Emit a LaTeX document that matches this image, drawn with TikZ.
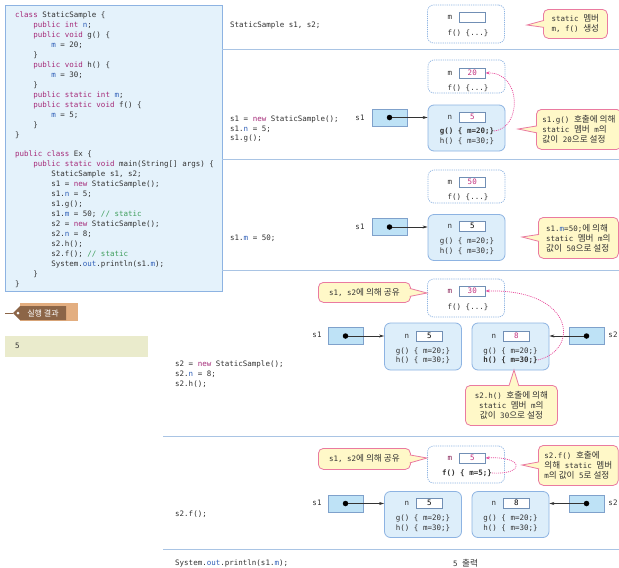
\documentclass[tikz,border=0pt]{standalone}
\usepackage{fontspec}
\setmainfont{DejaVu Sans}
\setmonofont{DejaVu Sans Mono}
\newfontfamily\kr[Scale=1.15]{Noto Sans CJK KR}
\usetikzlibrary{arrows.meta,calc,positioning}
\definecolor{codebg}{HTML}{E4F2FB}
\definecolor{codeline}{HTML}{8DB3E2}
\definecolor{sepline}{HTML}{A9C4E4}
\definecolor{objfill}{HTML}{DDEEFA}
\definecolor{reffill}{HTML}{BEE2F6}
\definecolor{notefill}{HTML}{FFF8C8}
\definecolor{noteline}{HTML}{EA7AA0}
\definecolor{pinkarrow}{HTML}{E8489A}
\definecolor{valred}{HTML}{C2307E}
\definecolor{kw}{HTML}{A52A78}
\definecolor{fld}{HTML}{2F5FB8}
\definecolor{cmt}{HTML}{3F9E5C}
\definecolor{txt}{HTML}{333333}
\definecolor{tagtan}{HTML}{E3AE80}
\definecolor{tagbrown}{HTML}{8C6547}
\definecolor{outfill}{HTML}{EAEBCC}
\newcommand{\codefont}{\ttfamily\fontsize{7.5}{9.93}\selectfont}
\newcommand{\notefont}{\ttfamily\fontsize{7.5}{10}\selectfont}
\newcommand{\kwd}[1]{\textcolor{kw}{#1}}
\newcommand{\fldm}[1]{\textcolor{fld}{#1}}
\newcommand{\hg}[1]{{\kr #1}}
\newcommand{\ii}{\mbox{\ \ \ \ }}
% pointer of a note: base, tip, base
\newcommand{\notetip}[3]{%
  \fill[notefill] #1 -- #2 -- #3 -- cycle;
  \draw[noteline,line width=0.8pt] #1 -- #2 -- #3;}

\begin{document}
\begin{tikzpicture}[x=1pt,y=-1pt,>=Stealth,
    codebox/.style={draw=codeline,fill=codebg,line width=0.9pt,anchor=north west,minimum width=217pt,minimum height=286pt},
    divider/.style={draw=sepline,line width=1pt},
    statbox/.style={draw=codeline,fill=white,rounded corners=6pt,dash pattern=on 1.2pt off 1pt,line width=0.7pt,minimum width=77pt},
    objbox/.style={draw=codeline,fill=objfill,rounded corners=6pt,line width=0.8pt,minimum width=77pt,minimum height=46pt},
    valbox/.style={draw=codeline!80!black,fill=white,minimum width=26pt,minimum height=10pt,inner sep=0pt,font=\codefont,line width=0.6pt},
    refbox/.style={draw=codeline!90!black,fill=reffill,minimum width=35pt,minimum height=17pt,line width=0.6pt},
    refdot/.style={circle,fill=black,inner sep=0pt,minimum size=5.5pt},
    member/.style={font=\codefont,text=txt,inner sep=0pt,text height=5.5pt,text depth=1.5pt},
    codetext/.style={font=\codefont,text=txt,inner sep=0pt,align=left,anchor=west},
    note/.style={draw=noteline,fill=notefill,rounded corners=5pt,line width=0.8pt,font=\notefont,text=txt,align=left,inner xsep=6pt,anchor=north west},
    link/.style={-{Stealth[length=5pt,width=3pt]},line width=0.6pt,draw=black!80},
    shared/.style={-{Stealth[length=4pt,width=3pt]},draw=pinkarrow,line width=0.7pt,dash pattern=on 1pt off 1pt}]
\useasboundingbox (0,0) rectangle (619,568);
\clip (0,0) rectangle (619,568);
\fill[white] (0,0) rectangle (619,568);

% source code
\node[codebox] (code) at (5,5) {};
\node[codetext,anchor=north west] (src) at (15,12) {%
\kwd{class} StaticSample \{\\
\ii\kwd{public int} \fldm{n};\\
\ii\kwd{public void} g() \{\\
\ii\ii\fldm{m} = 20;\\
\ii\}\\
\ii\kwd{public void} h() \{\\
\ii\ii\fldm{m} = 30;\\
\ii\}\\
\ii\kwd{public static int} \fldm{m};\\
\ii\kwd{public static void} f() \{\\
\ii\ii\fldm{m} = 5;\\
\ii\}\\
\}\\[9.93pt]
\kwd{public class} Ex \{\\
\ii\kwd{public static void} main(String[] args) \{\\
\ii\ii StaticSample s1, s2;\\
\ii\ii s1 = \kwd{new} StaticSample();\\
\ii\ii s1.\fldm{n} = 5;\\
\ii\ii s1.g();\\
\ii\ii s1.\fldm{m} = 50; \textcolor{cmt}{// static}\\
\ii\ii s2 = \kwd{new} StaticSample();\\
\ii\ii s2.\fldm{n} = 8;\\
\ii\ii s2.h();\\
\ii\ii s2.f(); \textcolor{cmt}{// static}\\
\ii\ii System.\fldm{out}.println(s1.\fldm{m});\\
\ii\}\\
\}};

% result
\fill[tagtan] (20,303) rectangle (78,321);
\fill[tagbrown] (13,313) -- (20,306) -- (66,306) -- (66,320) -- (20,320) -- cycle;
\fill[white] (18,313) circle (1.5);
\draw[tagbrown,line width=0.8pt] (5,313) -- (13,313);
\node[text=white,font=\kr\fontsize{7}{8}\selectfont,inner sep=0pt] (tag) at (43,313) {실행 결과};
\node[fill=outfill,anchor=north west,minimum width=143pt,minimum height=21pt] (out) at (5,336) {};
\node[codetext] (outval) at (15,346) {5};

% dividers
\draw[divider] (222,49) -- (619,49);
\draw[divider] (222,159) -- (619,159);
\draw[divider] (222,270) -- (619,270);
\draw[divider] (163,436) -- (619,436);
\draw[divider] (163,549) -- (619,549);

% StaticSample s1, s2;
\node[codetext] (c1) at (230,25) {StaticSample s1, s2;};
\node[statbox,minimum height=38pt] (st1) at (466,24) {};
\node[member] (m1) at (450,17) {m};
\node[valbox,right=6.5pt of m1] (mv1) {};
\node[member] (f1) at (468,33) {f() \{...\}};
\node[note,minimum width=64pt,minimum height=29pt] (note1) at (543,9) {static \hg{멤버}\\m, f() \hg{생성}};
\coordinate (t1) at (527,25);
\notetip{($(note1.west)+(1,-3.5)$)}{(t1)}{($(note1.west)+(1,3.5)$)}

% s1 = new StaticSample(); s1.n = 5; s1.g();
\node[codetext] (c2) at (230,129) {s1 = \kwd{new} StaticSample();\\s1.\fldm{n} = 5;\\s1.g();};
\node[statbox,minimum height=33pt] (st2) at (466.5,76.5) {};
\node[member] (m2) at (450,73) {m};
\node[valbox,right=6.5pt of m2,text=valred] (mv2) {20};
\node[member] (f2) at (468,88) {f() \{...\}};
\node[objbox] (ob2) at (466.5,128) {};
\node[member] (n2) at (450,117) {n};
\node[valbox,right=6.5pt of n2,text=valred] (nv2) {5};
\node[member,font=\codefont\bfseries] (g2) at (467,131) {g() \{ m=20;\}};
\node[member] (h2) at (467,141) {h() \{ m=30;\}};
\node[member] (l2) at (360,118) {s1};
\node[refbox] (r2) at (389.5,117.5) {};
\node[refdot] (d2) at (r2.center) {};
\draw[link] (d2) -- (d2 -| ob2.west);
\node[note,minimum height=40pt] (note2) at (536,109) {s1.g() \hg{호출에 의해}\\static \hg{멤버} m\hg{의}\\\hg{값이} 20\hg{으로 설정}};
\coordinate (t2) at (518,129);
\notetip{($(note2.west)+(1,-3.5)$)}{(t2)}{($(note2.west)+(1,3.5)$)}
\draw[shared] (g2.east) .. controls (522,128) and (522,72) .. (mv2.east);

% s1.m = 50;
\node[codetext] (c3) at (230,238) {s1.\fldm{m} = 50;};
\node[statbox,minimum height=33pt] (st3) at (466.5,186.5) {};
\node[member] (m3) at (450,182) {m};
\node[valbox,right=6.5pt of m3,text=valred] (mv3) {50};
\node[member] (f3) at (468,197) {f() \{...\}};
\node[objbox] (ob3) at (466.5,237.5) {};
\node[member] (n3) at (450,226) {n};
\node[valbox,right=6.5pt of n3] (nv3) {5};
\node[member] (g3) at (467,241) {g() \{ m=20;\}};
\node[member] (h3) at (467,251) {h() \{ m=30;\}};
\node[member] (l3) at (360,227) {s1};
\node[refbox] (r3) at (389.5,227) {};
\node[refdot] (d3) at (r3.center) {};
\draw[link] (d3) -- (d3 -| ob3.west);
\node[note,minimum width=80pt,minimum height=41pt] (note3) at (538,217) {s1.\fldm{m}=50;\hg{에 의해}\\static \hg{멤버} m\hg{의}\\\hg{값이} 50\hg{으로 설정}};
\coordinate (t3) at (522,237);
\notetip{($(note3.west)+(1,-3.5)$)}{(t3)}{($(note3.west)+(1,3.5)$)}

% s2 = new StaticSample(); s2.n = 8; s2.h();
\node[codetext] (c4) at (175,374) {s2 = \kwd{new} StaticSample();\\s2.\fldm{n} = 8;\\s2.h();};
\node[statbox,minimum height=38pt] (st4) at (466,298) {};
\node[member,text=valred!70!black] (m4) at (450,291) {m};
\node[valbox,right=6.5pt of m4,text=valred] (mv4) {30};
\node[member] (f4) at (468,307) {f() \{...\}};
\node[note,minimum width=92pt,minimum height=20pt] (note4a) at (318,282) {s1, s2\hg{에 의해 공유}};
\coordinate (t4a) at (427,293);
\notetip{($(note4a.east)+(-1,-4)$)}{(t4a)}{($(note4a.east)+(-1,4)$)}
\node[objbox,minimum height=47pt] (ob4a) at (423,346.5) {};
\node[member] (n4a) at (407,336) {n};
\node[valbox,right=6.5pt of n4a] (nv4a) {5};
\node[member] (g4a) at (423,351) {g() \{ m=20;\}};
\node[member] (h4a) at (423,360) {h() \{ m=30;\}};
\node[objbox,minimum height=47pt] (ob4b) at (510.5,346.5) {};
\node[member] (n4b) at (494,336) {n};
\node[valbox,right=6.5pt of n4b,text=valred] (nv4b) {8};
\node[member] (g4b) at (510.5,351) {g() \{ m=20;\}};
\node[member,font=\codefont\bfseries] (h4b) at (510.5,360) {h() \{ m=30;\}};
\node[member] (l4a) at (317,335) {s1};
\node[refbox] (r4a) at (345.5,336) {};
\node[refdot] (d4a) at (r4a.center) {};
\draw[link] (d4a) -- (d4a -| ob4a.west);
\node[member] (l4b) at (613,335) {s2};
\node[refbox] (r4b) at (586.5,336) {};
\node[refdot] (d4b) at (r4b.center) {};
\draw[link] (d4b) -- (d4b -| ob4b.east);
\node[note,align=center,minimum width=92pt,minimum height=40pt] (note4b) at (465,385) {s2.h() \hg{호출에 의해}\\static \hg{멤버} m\hg{의}\\\hg{값이} 30\hg{으로 설정}};
\coordinate (t4b) at (514,370);
\notetip{($(note4b.north)+(-2.5,1)$)}{(t4b)}{($(note4b.north)+(7.5,1)$)}
\draw[shared] (h4b.east) .. controls (580,350) and (575,289) .. (mv4.east);

% s2.f();
\node[codetext] (c5) at (175,514) {s2.f();};
\node[statbox,minimum height=37pt] (st5) at (466,464.5) {};
\node[member,text=valred!70!black] (m5) at (450,458) {m};
\node[valbox,right=6.5pt of m5,text=valred] (mv5) {5};
\node[member,font=\codefont\bfseries] (f5) at (467,473) {f() \{ m=5;\}};
\node[note,minimum width=92pt,minimum height=21pt] (note5a) at (318,448) {s1, s2\hg{에 의해 공유}};
\coordinate (t5a) at (427,458);
\notetip{($(note5a.east)+(-1,-4)$)}{(t5a)}{($(note5a.east)+(-1,4)$)}
\node[note,minimum height=40pt] (note5b) at (538,445) {s2.f() \hg{호출에}\\\hg{의해} static \hg{멤버}\\m\hg{의 값이} 5\hg{로 설정}};
\coordinate (t5b) at (522,465);
\notetip{($(note5b.west)+(1,-3.5)$)}{(t5b)}{($(note5b.west)+(1,3.5)$)}
\draw[shared] (f5.east) .. controls (525,475) and (525,456) .. (mv5.east);
\node[objbox] (ob5a) at (423,514.5) {};
\node[member] (n5a) at (407,503) {n};
\node[valbox,right=6.5pt of n5a] (nv5a) {5};
\node[member] (g5a) at (423,518) {g() \{ m=20;\}};
\node[member] (h5a) at (423,528) {h() \{ m=30;\}};
\node[objbox] (ob5b) at (510.5,514.5) {};
\node[member] (n5b) at (494,503) {n};
\node[valbox,right=6.5pt of n5b] (nv5b) {8};
\node[member] (g5b) at (510.5,518) {g() \{ m=20;\}};
\node[member] (h5b) at (510.5,528) {h() \{ m=30;\}};
\node[member] (l5a) at (317,503) {s1};
\node[refbox] (r5a) at (345.5,503.5) {};
\node[refdot] (d5a) at (r5a.center) {};
\draw[link] (d5a) -- (d5a -| ob5a.west);
\node[member] (l5b) at (613,503) {s2};
\node[refbox] (r5b) at (586.5,503.5) {};
\node[refdot] (d5b) at (r5b.center) {};
\draw[link] (d5b) -- (d5b -| ob5b.east);

% System.out.println(s1.m);
\node[codetext] (c6) at (175,563) {System.\fldm{out}.println(s1.\fldm{m});};
\node[codetext] (print) at (453,563) {5 \hg{출력}};
\end{tikzpicture}
\end{document}
